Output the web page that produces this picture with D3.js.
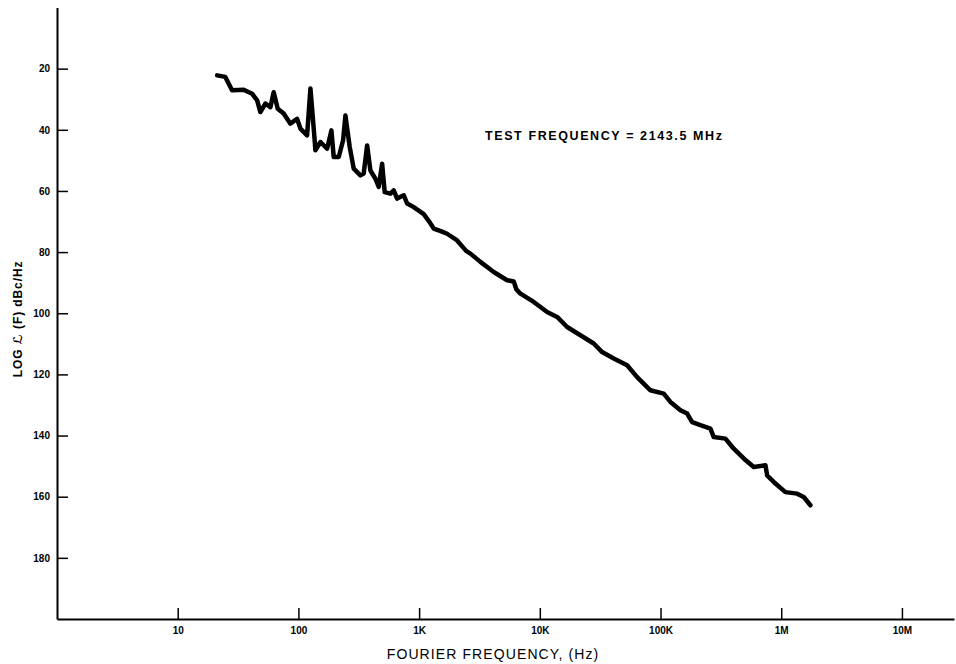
<!DOCTYPE html>
<html>
<head>
<meta charset="utf-8">
<script src="https://cdn.jsdelivr.net/npm/d3@7"></script>
<style>
  html, body { margin: 0; padding: 0; background: #fff; }
  svg { display: block; }
  text { font-family: "Liberation Sans", "DejaVu Sans", sans-serif; fill: #000; }
</style>
</head>
<body>
<svg id="chart" width="956" height="664"></svg>
<script>
// ---- data ----
const freqHz = [21.2, 24.8, 28.2, 35.2, 41.3, 45.5, 48.4, 53.3, 58.6, 62.4,
  67.4, 75.5, 85.8, 97.5, 103.9, 118, 125.8, 135.7, 138.3, 152.2,
  172.9, 187.7, 196.1, 215.8, 234.6, 245.2, 266, 287.2, 326.4, 347.5,
  370.9, 394.9, 434.5, 462.9, 493.8, 518.8, 578.3, 616, 657.3, 745.6,
  795.5, 902, 1092, 1221, 1321, 1530, 1706, 2065, 2450, 2661, 3220, 4151, 5358,
  6078, 6400, 6909, 8903, 11496, 13909, 16834, 21699, 27966, 32833, 40960,
  52880, 64000, 82480, 106300, 120800, 146200, 166200, 182800, 214100, 259000,
  275900, 344900, 404200, 489000, 591700, 739900, 764300, 895200, 1083000, 1354000,
  1536000, 1745000];
const phaseNoiseDb = [22.2, 22.7, 27.1, 26.9, 28.2, 30.4, 34.2, 31.4, 32.6, 27.7,
  33.1, 34.7, 38.0, 36.4, 39.6, 41.8, 26.5, 42.4, 46.7, 44.0,
  46.2, 40.2, 48.9, 48.9, 43.4, 35.3, 45.6, 52.7, 54.9, 54.3,
  45.1, 53.3, 56.0, 58.7, 51.1, 60.4, 60.9, 59.8, 62.5, 61.4,
  64.1, 65.3, 67.6, 70.2, 72.3, 73.2, 74.0, 76.2, 79.6, 80.5, 83.2, 86.5, 89.2,
  89.6, 92.2, 93.6, 96.3, 99.6, 101.2, 104.5, 107.2, 109.9, 112.7, 114.8,
  117.0, 120.9, 125.2, 126.3, 129.0, 131.7, 132.8, 135.6, 136.6, 137.7,
  140.5, 141.0, 144.3, 147.5, 150.3, 149.7, 153.0, 155.7, 158.5, 159.0,
  160.1, 162.8];
const xTickValues = [10, 100, 1e3, 1e4, 1e5, 1e6, 1e7];
const xTickLabels = ["10", "100", "1K", "10K", "100K", "1M", "10M"];
const yTickValues = [20, 40, 60, 80, 100, 120, 140, 160, 180];
const yTickLabels = ["20", "40", "60", "80", "100", "120", "140", "160", "180"];
const xTitle = "FOURIER FREQUENCY, (Hz)";
const yTitle = "LOG \u2112 (F) dBc/Hz";
const note = "TEST FREQUENCY = 2143.5 MHz";

// ---- layout ----
const svg = d3.select("#chart");
const axisX = 57, axisBottom = 619;
const x = d3.scaleLog().domain([1, 2.7e7]).range([axisX, 954]);
const y = d3.scaleLinear().domain([0, 200]).range([7.5, axisBottom]);

// y axis
const yAxis = d3.axisLeft(y)
  .tickValues(yTickValues)
  .tickFormat((d, i) => yTickLabels[i])
  .tickSizeInner(-11).tickSizeOuter(0).tickPadding(8);
const gy = svg.append("g").attr("transform", `translate(${axisX},0)`).call(yAxis);
gy.select(".domain").attr("stroke", "#000").attr("stroke-width", 2);
gy.selectAll(".tick line").attr("stroke", "#000").attr("stroke-width", 1.5);
gy.selectAll(".tick text")
  .attr("x", -7)
  .style("font-size", "10px").style("font-weight", "bold")
  .style("font-family", "'Liberation Sans', sans-serif");

// x axis
const xAxis = d3.axisBottom(x)
  .tickValues(xTickValues)
  .tickFormat((d, i) => xTickLabels[i])
  .tickSizeInner(-11).tickSizeOuter(0).tickPadding(6);
const gx = svg.append("g").attr("transform", `translate(0,${axisBottom})`).call(xAxis);
gx.select(".domain").attr("stroke", "#000").attr("stroke-width", 2);
gx.selectAll(".tick line").attr("stroke", "#000").attr("stroke-width", 1.5);
gx.selectAll(".tick text")
  .attr("y", 8)
  .style("font-size", "10px").style("font-weight", "bold")
  .style("font-family", "'Liberation Sans', sans-serif");

// axis titles
svg.append("text")
  .attr("x", 493).attr("y", 659)
  .attr("text-anchor", "middle")
  .style("font-size", "14px")
  .style("letter-spacing", "1.1px")
  .text(xTitle);

svg.append("text")
  .attr("transform", "translate(22,319) rotate(-90)")
  .attr("text-anchor", "middle")
  .style("font-size", "12px").style("font-weight", "bold")
  .style("letter-spacing", "0.9px")
  .text(yTitle);

// annotation
svg.append("text")
  .attr("x", 485).attr("y", 140)
  .style("font-size", "12.5px").style("font-weight", "bold")
  .style("letter-spacing", "1.6px")
  .text(note);

// curve
const pts = freqHz.map((f, i) => [f, phaseNoiseDb[i]]);
const line = d3.line().x(d => x(d[0])).y(d => y(d[1]));
svg.append("path")
  .datum(pts)
  .attr("d", line)
  .attr("fill", "none")
  .attr("stroke", "#000")
  .attr("stroke-width", 4.5)
  .attr("stroke-linejoin", "round")
  .attr("stroke-linecap", "round");
</script>
</body>
</html>
